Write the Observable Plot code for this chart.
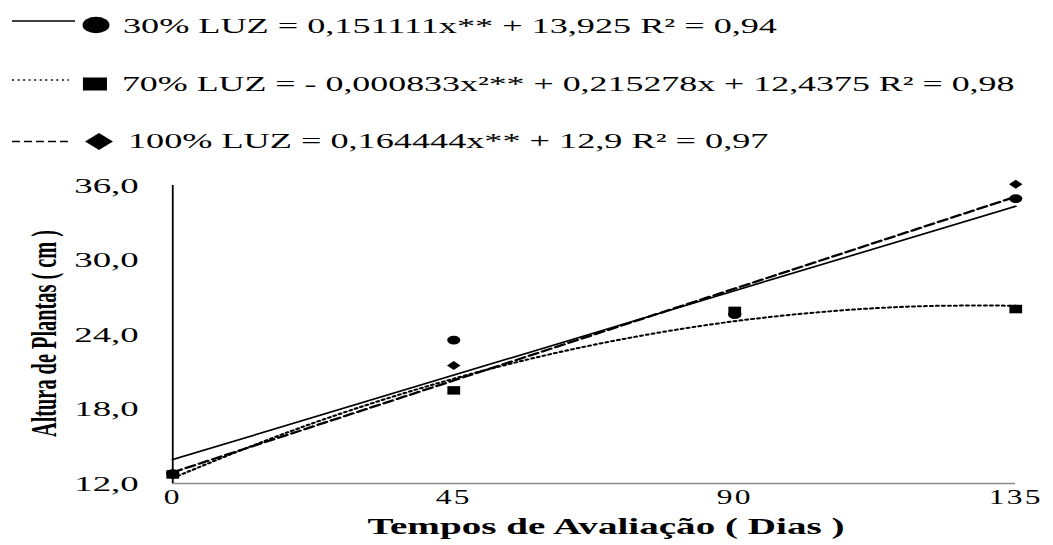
<!DOCTYPE html>
<html><head><meta charset="utf-8">
<script src="https://cdn.jsdelivr.net/npm/d3@7"></script>
<script src="https://cdn.jsdelivr.net/npm/@observablehq/plot@0.6"></script>
<style>
html,body{margin:0;padding:0;background:#fff;overflow:hidden}
#legend,#chart{display:block}
</style></head><body>
<div id="legend"></div><div id="chart"></div>
<script>
// ---- data ----
const days = [0, 45, 90, 135];
const luz30 = [12.8, 23.55, 25.6, 34.95];
const luz70 = [12.73, 19.5, 25.9, 26.05];
const luz100 = [12.8, 21.5, 25.7, 36.1];
const trendLinDays = [0, 135];
const trend30 = [13.93, 34.33];
const trend100 = [12.9, 35.1];
const trendQuadDays = [0, 15, 30, 45, 60, 75, 90, 105, 120, 135];
const trend70 = [12.44, 15.48, 18.15, 20.44, 22.36, 23.90, 25.07, 25.86, 26.28, 26.32];
const xTicks = [0, 45, 90, 135];
const xTickLabels = ["0", "45", "90", "135"];
const yTicks = [12, 18, 24, 30, 36];
const yTickLabels = ["12,0", "18,0", "24,0", "30,0", "36,0"];
const legendTexts = [
  "30% LUZ = 0,151111x** + 13,925 R² = 0,94",
  "70% LUZ = - 0,000833x²** + 0,215278x + 12,4375 R² = 0,98",
  "100% LUZ = 0,164444x** + 12,9 R² = 0,97"
];
const xTitle = "Tempos de Avaliação ( Dias )";
const yTitle = "Altura de Plantas ( cm )";

// ---- layout (inner units, stretched horizontally by 1.5) ----
const PAGE_W = 1053, W = 702;
const FONT = "'Liberation Serif', 'Times New Roman', serif";

// ---- legend ----
const LH = 160;
const leg = d3.create("svg")
  .attr("width", PAGE_W).attr("height", LH)
  .attr("viewBox", `0 0 ${W} ${LH}`)
  .attr("preserveAspectRatio", "none")
  .style("display", "block").style("background", "#fff")
  .attr("font-family", FONT);

// row 1: solid + circle
leg.append("line").attr("x1", 8).attr("x2", 50).attr("y1", 21).attr("y2", 21)
  .attr("stroke", "#000").attr("stroke-width", 1.5);
leg.append("ellipse").attr("cx", 64).attr("cy", 25).attr("rx", 9).attr("ry", 8.3).attr("fill", "#000");
leg.append("text").attr("x", 82).attr("y", 33).attr("font-size", 22)
  .attr("textLength", 436).attr("lengthAdjust", "spacingAndGlyphs").text(legendTexts[0]);
// row 2: dotted + square
leg.append("line").attr("x1", 8).attr("x2", 46).attr("y1", 80).attr("y2", 80)
  .attr("stroke", "#000").attr("stroke-width", 1.4).attr("stroke-dasharray", "1.3,2.4");
leg.append("rect").attr("x", 55.3).attr("y", 77.5).attr("width", 16).attr("height", 13).attr("fill", "#000");
leg.append("text").attr("x", 81.3).attr("y", 91).attr("font-size", 22)
  .attr("textLength", 595).attr("lengthAdjust", "spacingAndGlyphs").text(legendTexts[1]);
// row 3: dashed + diamond
leg.append("line").attr("x1", 8).attr("x2", 48).attr("y1", 141.5).attr("y2", 141.5)
  .attr("stroke", "#000").attr("stroke-width", 1.5).attr("stroke-dasharray", "5.3,2.7");
leg.append("path").attr("d", "M56.7,141.5L66,133L75.3,141.5L66,150Z").attr("fill", "#000");
leg.append("text").attr("x", 85.3).attr("y", 148).attr("font-size", 22)
  .attr("textLength", 427).attr("lengthAdjust", "spacingAndGlyphs").text(legendTexts[2]);
document.getElementById("legend").append(leg.node());

// ---- chart ----
const H = 385;
const rows = (xs, ys) => xs.map((x, i) => ({x, y: ys[i]}));
const chart = Plot.plot({
  width: W, height: H,
  marginTop: 25, marginBottom: 62, marginLeft: 114.67, marginRight: 25.33,
  style: {fontFamily: FONT, color: "#000", background: "#fff", overflow: "visible"},
  x: {domain: [0, 135]},
  y: {domain: [12, 36]},
  marks: [
    Plot.ruleY([12], {stroke: "#8c8c8c", strokeWidth: 1.3}),
    Plot.ruleX([0], {stroke: "#000", strokeWidth: 1.2}),
    Plot.axisY(yTicks, {tickSize: 0, tickPadding: 22.7, fontSize: 22, label: null,
      tickFormat: d => yTickLabels[yTicks.indexOf(d)]}),
    Plot.axisX(xTicks, {tickSize: 0, tickPadding: 6, fontSize: 21, label: null,
      tickFormat: d => xTickLabels[xTicks.indexOf(d)]}),
    Plot.line(rows(trendQuadDays, trend70), {x: "x", y: "y", curve: "natural", stroke: "#000",
      strokeWidth: 2, strokeDasharray: "1.4,2.6"}),
    Plot.line(rows(trendLinDays, trend100), {x: "x", y: "y", stroke: "#000",
      strokeWidth: 2.2, strokeDasharray: "6.5,3.3"}),
    Plot.line(rows(trendLinDays, trend30), {x: "x", y: "y", stroke: "#000", strokeWidth: 1.6}),
    Plot.dot(rows(days, luz30), {x: "x", y: "y", symbol: "circle", r: 4.4, fill: "#000"}),
    Plot.dot(rows(days, luz100), {x: "x", y: "y", symbol: "square", r: 3.6, rotate: 45, fill: "#000"}),
    Plot.dot(rows(days, luz70), {x: "x", y: "y", symbol: "square", r: 4.8, fill: "#000"})
  ]
});
const svg = d3.select(chart);
// widen tick labels like the reference
svg.selectAll('g[aria-label="y-axis tick label"] text')
  .attr("textLength", 43).attr("lengthAdjust", "spacingAndGlyphs");
svg.selectAll('g[aria-label="x-axis tick label"] text')
  .attr("letter-spacing", 1.5);
svg.append("text").attr("x", 404).attr("y", 374).attr("text-anchor", "middle")
  .attr("font-size", 23).attr("font-weight", "bold").attr("font-family", FONT)
  .attr("fill", "#000")
  .attr("textLength", 318).attr("lengthAdjust", "spacingAndGlyphs").text(xTitle);
svg.append("text").attr("transform", "translate(37.3,173.5) rotate(-90)").attr("text-anchor", "middle")
  .attr("font-size", 24).attr("font-weight", "bold").attr("font-family", FONT)
  .attr("fill", "#000")
  .attr("textLength", 207).attr("lengthAdjust", "spacingAndGlyphs").text(yTitle);
chart.setAttribute("width", PAGE_W);
chart.setAttribute("height", H);
chart.setAttribute("viewBox", `0 0 ${W} ${H}`);
chart.setAttribute("preserveAspectRatio", "none");
chart.setAttribute("style", `display:block;width:${PAGE_W}px;height:${H}px;max-width:none;background:#fff;font-family:${FONT};overflow:visible`);
document.getElementById("chart").append(chart);
</script>
</body></html>
